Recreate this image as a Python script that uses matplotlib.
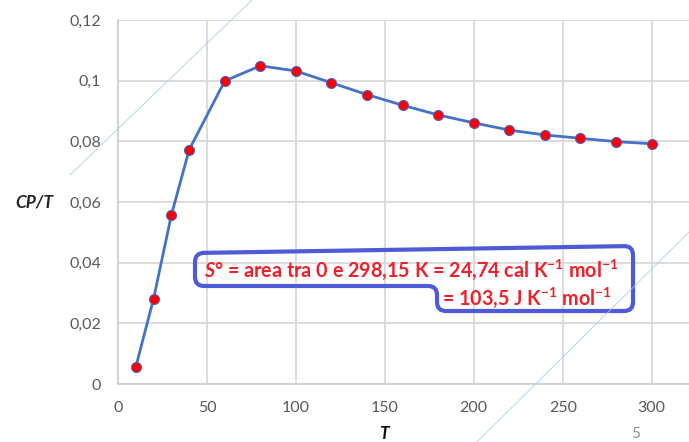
import numpy as np
import matplotlib
matplotlib.use('Agg')
import matplotlib.pyplot as plt
from matplotlib.path import Path
from matplotlib.patches import PathPatch
from matplotlib.ticker import FuncFormatter, MultipleLocator

plt.rcParams['font.family'] = ['Lato', 'DejaVu Sans']
plt.rcParams['mathtext.fontset'] = 'custom'
plt.rcParams['mathtext.rm'] = 'Lato:bold'
plt.rcParams['mathtext.it'] = 'Lato:bold:italic'
plt.rcParams['mathtext.bf'] = 'Lato:bold'

# dati
T = [10, 20, 30, 40, 60, 80, 100, 120, 140, 160, 180, 200, 220, 240, 260, 280, 300]
cp_t = [0.0056, 0.0281, 0.0557, 0.0772, 0.0999, 0.1049, 0.1032, 0.0993, 0.0954,
        0.0919, 0.0887, 0.0861, 0.0837, 0.0821, 0.0810, 0.0799, 0.0792]

W, H = 689, 442
fig = plt.figure(figsize=(W / 100, H / 100), dpi=100)


def px(x, y):
    # coordinate pixel immagine -> frazione figura
    return x / W, 1 - y / H


ax = fig.add_axes([118 / W, (H - 384) / H, 1 - 118 / W, (384 - 20) / H])
ax.set_xlim(0, 321)
ax.set_ylim(0, 0.12)
ax.xaxis.set_major_locator(MultipleLocator(50))
ax.yaxis.set_major_locator(MultipleLocator(0.02))


def virgola(v, pos):
    s = f'{v:.2f}'.rstrip('0').rstrip('.')
    return s.replace('.', ',')


ax.yaxis.set_major_formatter(FuncFormatter(virgola))
ax.grid(True, color='#d9d9d9', lw=1.3)
ax.set_axisbelow(True)
for s in ['top', 'right']:
    ax.spines[s].set_visible(False)
for s in ['left', 'bottom']:
    ax.spines[s].set_color('#d0d0d0')
    ax.spines[s].set_linewidth(1.3)
ax.tick_params(length=0, labelsize=11.5, labelcolor='#595959', pad=12)

ax.plot(T, cp_t, color='#4472c4', lw=2, marker='o', ms=7.2,
        markerfacecolor='#ff0000', markeredgecolor='#4a62c8', markeredgewidth=0.8,
        zorder=3)

# etichette assi
fig.text(*px(34, 203), 'CP/T', fontsize=12.5, fontweight='bold', style='italic',
         ha='center', va='center', color='#222222')
fig.text(*px(384, 434), 'T', fontsize=12.5, fontweight='bold', style='italic',
         ha='center', va='center', color='#111111')
fig.text(*px(636, 434), '5', fontsize=11, ha='center', va='center', color='#8c8c8c')

# linee decorative di sfondo
for (x0, y0, x1, y1) in [(70, 175, 252, 0), (477, 442, 689, 232), (231, 0, 244, -13)]:
    a, b = px(x0, y0)
    c, d = px(x1, y1)
    fig.add_artist(plt.Line2D([a, c], [b, d], color='#aac8ea', lw=0.7, alpha=0.8,
                              transform=fig.transFigure, zorder=10))

# riquadro blu arrotondato
corners = [(195, 253), (633, 246), (633, 311), (437, 311), (437, 286), (195, 286)]
r = 9
verts, codes = [], []
n = len(corners)
for i in range(n):
    P = np.array(corners[i], float)
    Q = np.array(corners[i - 1], float)
    R = np.array(corners[(i + 1) % n], float)
    p1 = P + r * (Q - P) / np.linalg.norm(Q - P)
    p2 = P + r * (R - P) / np.linalg.norm(R - P)
    verts += [p1, P, p2]
    codes += [Path.MOVETO if i == 0 else Path.LINETO, Path.CURVE3, Path.CURVE3]
verts.append(verts[0])
codes.append(Path.LINETO)
verts = [px(x, y) for x, y in verts]
patch = PathPatch(Path(verts, codes), facecolor='none', edgecolor='#4d5bd6', lw=3,
                  transform=fig.transFigure, zorder=5)
fig.add_artist(patch)

riga1 = r'$S$° = area tra 0 e 298,15 K = 24,74 cal K$^{-1}$ mol$^{-1}$'
riga2 = r'= 103,5 J K$^{-1}$ mol$^{-1}$'
fig.text(*px(204, 270), riga1, fontsize=14.2, fontweight='bold', color='#f0202a',
         ha='left', va='center', zorder=6)
fig.text(*px(612, 298), riga2, fontsize=14.2, fontweight='bold', color='#f0202a',
         ha='right', va='center', zorder=6)

fig.savefig('out.png', dpi=100)
